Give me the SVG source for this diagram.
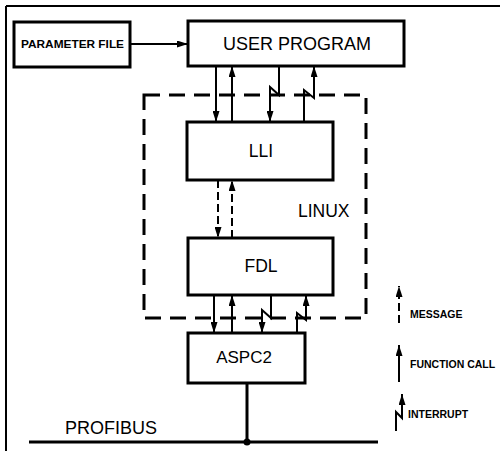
<svg xmlns="http://www.w3.org/2000/svg" width="500" height="451" viewBox="0 0 500 451">
<style>
.box{fill:#fff;stroke:#000;stroke-width:3}
.t{font-family:"Liberation Sans",Arial,sans-serif;fill:#000}
.s{font-family:"Liberation Sans",Arial,sans-serif;fill:#000;font-weight:bold;font-size:10.5px}
.c{fill:none;stroke:#000;stroke-width:2}
.d{fill:none;stroke:#000;stroke-width:2;stroke-dasharray:8 4}
</style>
<defs>
<marker id="ah" viewBox="0 0 11 7" refX="11" refY="3.5" markerWidth="11" markerHeight="7" markerUnits="userSpaceOnUse" orient="auto">
<path d="M0,0 L11,3.5 L0,7 z" fill="#000"/>
</marker>
</defs>
<rect width="500" height="451" fill="#fff"/>
<g id="frame">
<path d="M6,6 H500 M6,6 V451" fill="none" stroke="#000" stroke-width="2"/>
</g>
<g id="linux">
<rect x="144" y="95" width="222" height="223" fill="none" stroke="#000" stroke-width="3" stroke-dasharray="16 9"/>
<text class="t" x="298" y="217" font-size="17.5">LINUX</text>
</g>
<g id="connectors">
<line class="c" x1="130" y1="44" x2="188" y2="44" marker-end="url(#ah)"/>
<line class="c" x1="216" y1="66" x2="216" y2="122" marker-end="url(#ah)"/>
<line class="c" x1="232" y1="122" x2="232" y2="66" marker-end="url(#ah)"/>
<path class="c" d="M279,66 V95 L270,87 V122" marker-end="url(#ah)"/>
<path class="c" d="M304,122 V90 L314,98 V66" marker-end="url(#ah)"/>
<line class="d" x1="218" y1="180" x2="218" y2="238" marker-end="url(#ah)"/>
<line class="d" x1="232" y1="238" x2="232" y2="180" marker-end="url(#ah)"/>
<line class="c" x1="214" y1="295" x2="214" y2="333" marker-end="url(#ah)"/>
<line class="c" x1="232" y1="333" x2="232" y2="295" marker-end="url(#ah)"/>
<path class="c" d="M271,295 V318 L262,310 V333" marker-end="url(#ah)"/>
<path class="c" d="M297,333 V313 L306,320 V295" marker-end="url(#ah)"/>
<line x1="247" y1="383" x2="247" y2="442" stroke="#000" stroke-width="3"/>
</g>
<g id="param">
<rect class="box" x="14" y="22" width="116" height="45"/>
<text class="t" x="21" y="48" font-size="11.5" font-weight="bold" textLength="103" lengthAdjust="spacingAndGlyphs">PARAMETER FILE</text>
</g>
<g id="user">
<rect class="box" x="188" y="21" width="216" height="45"/>
<text class="t" x="297" y="50" font-size="18" text-anchor="middle">USER PROGRAM</text>
</g>
<g id="lli">
<rect class="box" x="187" y="122" width="146" height="58"/>
<text class="t" x="261" y="157" font-size="17.5" text-anchor="middle">LLI</text>
</g>
<g id="fdl">
<rect class="box" x="188" y="238" width="145" height="57"/>
<text class="t" x="261" y="272" font-size="17.5" text-anchor="middle">FDL</text>
</g>
<g id="aspc2">
<rect class="box" x="188" y="333" width="117" height="50"/>
<text class="t" x="244" y="363" font-size="17" text-anchor="middle">ASPC2</text>
</g>
<g id="profibus">
<line x1="29" y1="442" x2="378" y2="442" stroke="#000" stroke-width="3"/>
<circle cx="247" cy="442" r="3.5" fill="#000"/>
<text class="t" x="65" y="434" font-size="18">PROFIBUS</text>
</g>
<g id="legend">
<line class="d" x1="399" y1="323" x2="399" y2="286" marker-end="url(#ah)"/>
<text class="s" x="410" y="318">MESSAGE</text>
<line class="c" x1="399" y1="382" x2="399" y2="345" marker-end="url(#ah)"/>
<text class="s" x="410" y="368">FUNCTION CALL</text>
<path class="c" d="M396,431 V412 L402,418 V394" marker-end="url(#ah)"/>
<text class="s" x="408" y="418">INTERRUPT</text>
</g>
</svg>
